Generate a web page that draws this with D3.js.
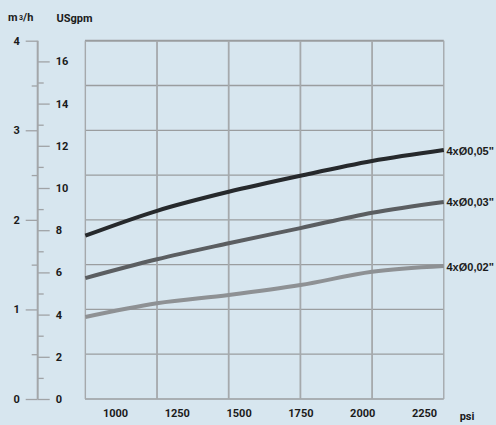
<!DOCTYPE html>
<html><head><meta charset="utf-8">
<script src="https://cdn.jsdelivr.net/npm/d3@7"></script>
<style>
html,body{margin:0;padding:0;background:#d7e6ef;}
svg{display:block;}
text{font-family:Roboto,"Open Sans",sans-serif;font-weight:bold;fill:#1b1b1b;}
</style></head><body>
<svg id="c" width="496" height="425"></svg>
<script>
// ---- data ----
const psiPoints = [880, 1170, 1460, 1750, 2040, 2330];
const series05 = [7.74, 8.92, 9.82, 10.58, 11.28, 11.80];
const series03 = [5.73, 6.62, 7.38, 8.10, 8.83, 9.34];
const series02 = [3.89, 4.54, 4.93, 5.40, 6.03, 6.30];
const seriesNames = ['4x\u00D80,05"', '4x\u00D80,03"', '4x\u00D80,02"'];
const xTicks = [1000, 1250, 1500, 1750, 2000, 2250];
const gridPsi = [880, 1170, 1460, 1750, 2040, 2330];
const m3hTicks = [0, 1, 2, 3, 4];
const m3hMinor = [0.5, 1.5, 2.5, 3.5];
const m3hGrid = [0, 0.5, 1, 1.5, 2, 2.5, 3, 3.5, 4];
const gpmTicks = [0, 2, 4, 6, 8, 10, 12, 14, 16];
const gpmMinor = [1, 3, 5, 7, 9, 11, 13, 15];

(function(){
const svg = d3.select('#c');
const pLeft = 85, pTop = 40.7, pBottom = 399;
const axisX = 37.7;

const x = d3.scaleLinear().domain([1000, 2250]).range([115, 424]);
const yM = d3.scaleLinear().domain([0, 4]).range([pBottom, pTop]);
const yG = d3.scaleLinear().domain([0, 16]).range([pBottom, 61.4]);

// grid
const grid = svg.append('g');
grid.selectAll('line.h').data(m3hGrid).join('line')
  .attr('x1', pLeft).attr('x2', x(gridPsi[gridPsi.length-1]))
  .attr('y1', d => yM(d)).attr('y2', d => yM(d))
  .attr('stroke', '#9a9d9f').attr('stroke-width', d => d === 4 ? 2 : 1.3);
grid.selectAll('line.v').data(gridPsi).join('line')
  .attr('x1', d => x(d)).attr('x2', d => x(d))
  .attr('y1', pTop).attr('y2', pBottom)
  .attr('stroke', '#a5a9ac').attr('stroke-width', (d,i) => (i===0||i===gridPsi.length-1) ? 1.4 : 1.8);

// left axes
function styleAxis(g){
  g.select('.domain').remove();
  g.selectAll('.tick line').attr('stroke', '#a0a3a6').attr('stroke-width', 1.3);
  g.selectAll('.tick text').style('font-size', '11px').style('font-family', 'Roboto,sans-serif').style('font-weight','bold').attr('fill', '#1b1b1b');
}
svg.append('g').attr('transform', `translate(${axisX},0)`)
  .call(d3.axisLeft(yM).tickValues(m3hTicks).tickSize(12).tickPadding(6).tickFormat(d3.format('d')))
  .call(styleAxis);
svg.append('g').attr('transform', `translate(${axisX},0)`)
  .call(d3.axisLeft(yM).tickValues(m3hMinor).tickSize(6).tickFormat(''))
  .call(styleAxis);
svg.append('g').attr('transform', `translate(${axisX},0)`)
  .call(d3.axisRight(yG).tickValues(gpmTicks).tickSize(12).tickPadding(6).tickFormat(d3.format('d')))
  .call(styleAxis);
svg.append('g').attr('transform', `translate(${axisX},0)`)
  .call(d3.axisRight(yG).tickValues(gpmMinor).tickSize(6).tickFormat(''))
  .call(styleAxis);
svg.append('line').attr('x1', axisX).attr('x2', axisX).attr('y1', pTop).attr('y2', pBottom)
  .attr('stroke', '#a3a6a9').attr('stroke-width', 2);

// x axis labels
const xa = svg.append('g').attr('transform', `translate(0,${pBottom})`)
  .call(d3.axisBottom(x).tickValues(xTicks).tickSize(0).tickPadding(10).tickFormat(d3.format('d')));
xa.select('.domain').remove();
xa.selectAll('.tick text').style('font-size', '11px').style('font-family', 'Roboto,sans-serif').style('font-weight','bold').attr('fill', '#1b1b1b');

svg.append('text').attr('x', 467).attr('y', 420).attr('text-anchor', 'middle')
  .style('font-size', '11px').text('psi');

// titles
const t1 = svg.append('text').attr('x', 8).attr('y', 20.5).style('font-size', '11px');
t1.append('tspan').text('m');
t1.append('tspan').style('font-size', '7px').attr('dx', 1.5).attr('dy', -0.5).text('3');
t1.append('tspan').attr('dy', 0.5).text('/h');
svg.append('text').attr('x', 56.5).attr('y', 22).style('font-size', '11px').text('USgpm');

// curves
const allSeries = [series05, series03, series02];
const colors = ['#26292c', '#5b5e61', '#8e9194'];
const line = d3.line().x(d => x(d[0])).y(d => yG(d[1])).curve(d3.curveMonotoneX);
allSeries.forEach((s, i) => {
  const pts = psiPoints.map((p, j) => [p, s[j]]);
  svg.append('path').attr('d', line(pts)).attr('fill', 'none')
    .attr('stroke', colors[i]).attr('stroke-width', 4).attr('stroke-linecap', 'butt');
  svg.append('text').attr('x', 446.5).attr('y', yG(s[s.length-1]) + 4.5)
    .style('font-family', '"Liberation Sans",Arial,sans-serif').style('font-size', '11px')
    .text(seriesNames[i]);
});
})();
</script>
</body></html>
